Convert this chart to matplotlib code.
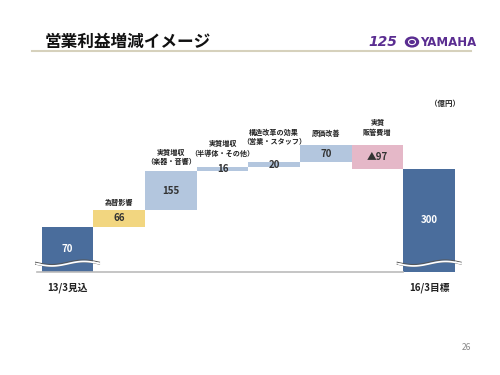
import numpy as np
import matplotlib.pyplot as plt
from matplotlib.patches import Circle

plt.rcParams['font.family'] = ['Noto Sans CJK JP', 'DejaVu Sans']

# データ（億円）
categories = ['13/3見込', '為替影響', '実質増収\n（楽器・音響）', '実質増収\n（半導体・その他）',
              '構造改革の効果\n（営業・スタッフ）', '原価改善', '実質\n販管費増', '16/3目標']
values = [70, 66, 155, 16, 20, 70, -97, 300]
value_labels = ['70', '66', '155', '16', '20', '70', '▲97', '300']
colors = ['#4A6D9C', '#F2D680', '#B3C6DE', '#B3C6DE', '#B3C6DE', '#B3C6DE', '#E5B8C8', '#4A6D9C']

# レイアウト用（ラベルとバーの隙間, px）
label_gap_px = [0, 4, 6, 10, 17, 8, 9, 0]
floor = -110   # 省略した棒の下端

fig = plt.figure(figsize=(5, 3.75), dpi=100)

# タイトルとロゴ
fig.text(45 / 500, 1 - 42 / 375, '営業利益増減イメージ', fontsize=12, fontweight='bold',
         va='center', ha='left', color='#111111')
fig.add_artist(plt.Line2D([32 / 500, 471 / 500], [1 - 51 / 375] * 2, color='#D6D1BC', lw=1.5))
purple = '#5A2D91'
fig.text(368 / 500, 1 - 42 / 375, '125', fontsize=10, fontweight='heavy', color=purple,
         va='center', ha='left', family='DejaVu Sans', style='italic')
fig.add_artist(Circle((412 / 500, 1 - 42 / 375), 0.013, transform=fig.transFigure,
                      facecolor=purple, edgecolor=purple))
fig.add_artist(Circle((412 / 500, 1 - 42 / 375), 0.007, transform=fig.transFigure,
                      facecolor='none', edgecolor='white', lw=0.8))
fig.text(420 / 500, 1 - 42 / 375, 'YAMAHA', fontsize=8.5, fontweight='bold', color=purple,
         va='center', ha='left', family='DejaVu Sans')

fig.text(466 / 500, 1 - 348 / 375, '26', fontsize=6, color='#888888', ha='center', va='center')

# グラフ領域
ax = fig.add_axes([41.7 / 500, 1 - 271.7 / 375, (455 - 41.7) / 500, (271.7 - 90) / 375])
ax.set_xlim(-0.5, len(values) - 0.5)
ax.set_ylim(floor, floor + (271.7 - 90) * 4)
ax.axis('off')

x = np.arange(len(values))
bottoms = []
heights = []
run = 0
for i, v in enumerate(values):
    if i == 0 or i == len(values) - 1:
        bottoms.append(floor)
        heights.append(v - floor)
        run = v
    else:
        bottoms.append(run if v >= 0 else run + v)
        heights.append(abs(v))
        run += v

ax.bar(x, heights, bottom=bottoms, width=1.0, color=colors, edgecolor='none')

# 基準線
ax.plot([-0.59, len(values) - 1.5], [floor, floor], color='#BBBBBB', lw=1.2, clip_on=False)

# 値ラベル
for i in range(len(values)):
    cy = bottoms[i] + heights[i] / 2
    tc = 'white' if colors[i] == '#4A6D9C' else '#333333'
    ax.text(x[i], cy, value_labels[i], ha='center', va='center', fontsize=7,
            fontweight='bold', color=tc)

# 項目ラベル
for i in range(1, len(values) - 1):
    top = bottoms[i] + heights[i]
    ax.annotate(categories[i], (x[i], top), xytext=(0, label_gap_px[i] * 0.72),
                textcoords='offset points', ha='center', va='bottom', fontsize=5.1,
                fontweight='bold', color='#222222', linespacing=1.4)

for i in (0, len(values) - 1):
    ax.annotate(categories[i], (x[i], floor), xytext=(0, -8),
                textcoords='offset points', ha='center', va='top', fontsize=7,
                fontweight='bold', color='#222222')

ax.text(len(values) - 1 + 0.3, ax.get_ylim()[1] - 13 * 4, '（億円）', ha='center', va='center',
        fontsize=5.4, fontweight='bold', color='#222222')

# 省略記号（波線）
wx = np.linspace(-0.62, 0.62, 60)
wy = 9 * np.sin(wx / 0.62 * np.pi)
for xc in (0, len(values) - 1):
    yb = floor + 34
    for off in (-4, 4):
        ax.plot(xc + wx, yb + wy + off, color='#555555', lw=0.7, clip_on=False, zorder=4)
    ax.fill_between(xc + wx, yb + wy - 3.5, yb + wy + 3.5, color='white', lw=0, zorder=5,
                    clip_on=False)

fig.savefig('out.png', dpi=100)
